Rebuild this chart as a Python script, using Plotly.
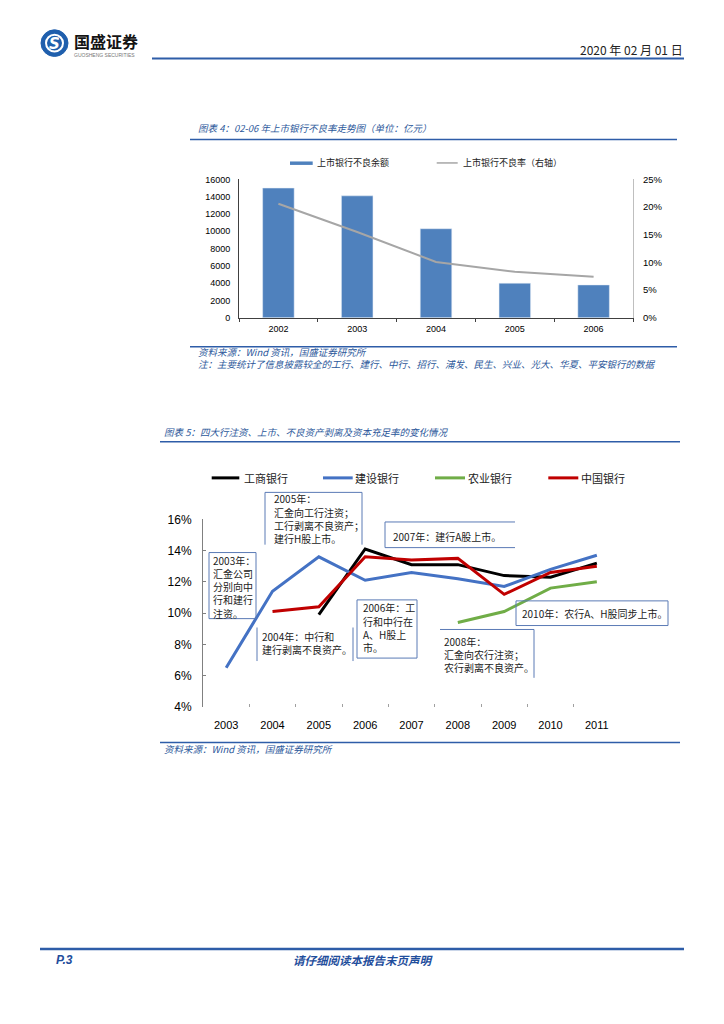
import plotly.graph_objects as go

W, H = 724, 1024
OFF = 8  # the page body adds an 8px margin; compensate so marks land where the reference has them
def X(p): return (p - OFF) / W
def Y(p): return 1 - (p - OFF) / H

CJK = "Noto Sans CJK SC"
LAT = "Liberation Sans"
BLUE_T = "#2B579A"
RULE = "#2E5DA8"

# ---------------- Chart 1 data ----------------
years1 = ["2002", "2003", "2004", "2005", "2006"]
npl_balance = [15000, 14100, 10300, 4000, 3800]          # 亿元
npl_ratio = [0.206, 0.155, 0.101, 0.083, 0.074]          # 右轴
name_bal = "上市银行不良余额"
name_ratio = "上市银行不良率（右轴）"

# ---------------- Chart 2 data ----------------
years2 = ["2003", "2004", "2005", "2006", "2007", "2008", "2009", "2010", "2011"]
icbc = [None, None, 9.9, 14.1, 13.1, 13.1, 12.4, 12.3, 13.2]
ccb = [6.5, 11.4, 13.6, 12.1, 12.6, 12.2, 11.7, 12.8, 13.7]
abc = [None, None, None, None, None, 9.4, 10.1, 11.6, 12.0]
boc = [None, 10.1, 10.4, 13.6, 13.4, 13.5, 11.2, 12.6, 13.0]
names2 = ["工商银行", "建设银行", "农业银行", "中国银行"]
colors2 = ["#000000", "#4472C4", "#70AD47", "#C00000"]

fig = go.Figure()

# Chart 1 traces
fig.add_trace(go.Bar(x=years1, y=npl_balance, name=name_bal, marker_color="#4F81BD",
                     width=0.4, xaxis="x", yaxis="y", showlegend=False))
fig.add_trace(go.Scatter(x=years1, y=npl_ratio, name=name_ratio, mode="lines",
                         line=dict(color="#A6A6A6", width=2), xaxis="x", yaxis="y2",
                         showlegend=False))

# Chart 2 traces
for vals, nm, col in zip([icbc, ccb, abc, boc], names2, colors2):
    fig.add_trace(go.Scatter(x=years2, y=vals, name=nm, mode="lines",
                             line=dict(color=col, width=3), xaxis="x2", yaxis="y3",
                             connectgaps=False, showlegend=False))

shapes = []
annos = []

def hline(x0, x1, y, color=RULE, width=1.5):
    shapes.append(dict(type="line", xref="paper", yref="paper", x0=X(x0), x1=X(x1),
                       y0=Y(y), y1=Y(y), line=dict(color=color, width=width)))

def seg(x0, y0, x1, y1, color, width=1):
    shapes.append(dict(type="line", xref="paper", yref="paper", x0=X(x0), x1=X(x1),
                       y0=Y(y0), y1=Y(y1), line=dict(color=color, width=width)))

def txt(s, x, y, size, color="black", xanchor="left", family=CJK, weight="normal", style="normal"):
    annos.append(dict(text=s, x=X(x), y=Y(y), xref="paper", yref="paper", xanchor=xanchor,
                      yanchor="middle", showarrow=False, borderpad=0, align="left",
                      font=dict(size=size, color=color, family=family, weight=weight, style=style)))

# ---------------- Header ----------------
shapes.append(dict(type="circle", xref="paper", yref="paper", x0=X(41), x1=X(68), y0=Y(50), y1=Y(23),
                   fillcolor="#1F5FAD", line=dict(color="#1F5FAD", width=1)))
shapes.append(dict(type="circle", xref="paper", yref="paper", x0=X(46), x1=X(63), y0=Y(45), y1=Y(28),
                   fillcolor="rgba(0,0,0,0)", line=dict(color="white", width=2)))
txt("S", 54.5, 37, 15, color="white", xanchor="center", family="DejaVu Sans", weight="bold", style="italic")
txt("国盛证券", 73, 34, 16, color="#141414", weight="bold")
txt("GUOSHENG SECURITIES", 73, 48.5, 5, color="#777777", family=LAT)
hline(152, 684, 52, width=2)
txt("2020 年 02 月 01 日", 684, 43, 12, color="#222222", xanchor="right")

# ---------------- Chart 1 texts ----------------
txt("图表 4：02-06 年上市银行不良率走势图（单位：亿元）", 197, 123, 9.5, color=BLUE_T, style="italic")
hline(190, 677, 134.3)
shapes.append(dict(type="rect", xref="paper", yref="paper", x0=X(290), x1=X(312.7), y0=Y(160), y1=Y(156.5),
                   fillcolor="#4F81BD", line=dict(width=0)))
txt(name_bal, 316, 158, 9, color="#222222")
seg(436.7, 158, 457.7, 158, "#A6A6A6", 1.5)
txt(name_ratio, 462, 158, 9, color="#222222")
hline(190, 677, 344.3)
txt("资料来源：Wind 资讯，国盛证券研究所<br>"
    "注：主要统计了信息披露较全的工行、建行、中行、招行、浦发、民生、兴业、光大、华夏、平安银行的数据",
    197, 355.3, 9.5, color=BLUE_T, style="italic")

# ---------------- Chart 2 texts ----------------
txt("图表 5：四大行注资、上市、不良资产剥离及资本充足率的变化情况", 163, 430.7, 9.5, color=BLUE_T, style="italic")
hline(160, 680, 440.7)
leg2 = [(211.7, 239.3, 242.7), (323, 352.7, 354.3), (435, 465, 466.7), (548.3, 578.3, 580)]
for (a, b, t), nm, col in zip(leg2, names2, colors2):
    seg(a, 477.3, b, 477.3, col, 3)
    txt(nm, t, 477.3, 11, color="#222222")
hline(160, 680, 745.7)
txt("资料来源：Wind 资讯，国盛证券研究所", 163, 752, 9.5, color=BLUE_T, style="italic")

# annotation boxes (x0, y0, x1, y1, edges)
BOXC = "#5A7AB5"
boxes = [
    (265, 492, 362, 545, "tlr"),
    (209, 553, 256, 620, "tlrb"),
    (257, 629, 353, 663, "lr"),
    (357, 601, 417, 660, "tlrb"),
    (385, 522, 515, 548, "tbl"),
    (440, 631, 534, 680, "tr"),
    (516, 602, 668, 627, "tlrb"),
]
for x0, y0, x1, y1, e in boxes:
    if "t" in e: seg(x0, y0, x1, y0, BOXC)
    if "b" in e: seg(x0, y1, x1, y1, BOXC)
    if "l" in e: seg(x0, y0, x0, y1, BOXC)
    if "r" in e: seg(x1, y0, x1, y1, BOXC)

notes = [
    (273, 498.5, ["2005年：", "汇金向工行注资；", "工行剥离不良资产；", "建行H股上市。"]),
    (211.7, 560.7, ["2003年：", "汇金公司", "分别向中", "行和建行", "注资。"]),
    (260.7, 637.7, ["2004年：中行和", "建行剥离不良资产。"]),
    (361.7, 609, ["2006年：工", "行和中行在", "A、H股上", "市。"]),
    (391.7, 536.7, ["2007年：建行A股上市。"]),
    (443.3, 642.7, ["2008年：", "汇金向农行注资；", "农行剥离不良资产。"]),
    (520.7, 615, ["2010年：农行A、H股同步上市。"]),
]
for x, y, lines in notes:
    for i, ln in enumerate(lines):
        txt(ln, x, y + i * 13.4, 10, color="#222222")

# ---------------- Footer ----------------
hline(40, 684, 955, width=2.5)
txt("P.3", 55, 966, 12, color="#1F4E9C", family=LAT, weight="bold", style="italic")
txt("请仔细阅读本报告末页声明", 363, 966, 11.5, color="#1F4E9C", xanchor="center", weight="bold", style="italic")

fig.update_layout(
    width=W, height=H, margin=dict(l=0, r=0, t=0, b=0),
    paper_bgcolor="white", plot_bgcolor="rgba(0,0,0,0)",
    showlegend=False, shapes=shapes, annotations=annos,
    xaxis=dict(domain=[X(239), X(633)], anchor="y", type="category", categoryorder="array",
               categoryarray=years1, range=[-0.5, 4.5], showline=True, linecolor="#404040",
               linewidth=1, ticks="outside", tickson="boundaries", ticklen=3, tickcolor="#404040",
               showgrid=False, zeroline=False, tickfont=dict(family=LAT, size=9, color="black"),
               ticklabelstandoff=2),
    yaxis=dict(domain=[Y(315), Y(174.7)], anchor="x", range=[0, 16000], dtick=2000, tickformat="d",
               showline=True, linecolor="#404040", linewidth=1, showgrid=False, zeroline=False,
               ticks="", tickfont=dict(family=LAT, size=9, color="black"), ticklabelstandoff=6),
    yaxis2=dict(overlaying="y", side="right", anchor="x", range=[0, 0.25], dtick=0.05,
                tickformat=".0%", showline=True, linecolor="#BFBFBF", linewidth=1, showgrid=False,
                zeroline=False, ticks="", tickfont=dict(family=LAT, size=9.5, color="black"),
                ticklabelstandoff=7),
    xaxis2=dict(domain=[X(203), X(620)], anchor="y3", type="category", categoryorder="array",
                categoryarray=years2, range=[-0.5, 8.5], showline=False, ticks="inside",
                tickson="boundaries", ticklen=3, tickcolor="#A0A0A0", showgrid=False, zeroline=False,
                tickfont=dict(family=LAT, size=11, color="black"), ticklabelstandoff=10),
    yaxis3=dict(domain=[Y(709.5), Y(519.3)], anchor="x2", range=[4, 16], dtick=2, ticksuffix="%",
                showline=True, linecolor="#808080", linewidth=1, ticks="inside", ticklen=3,
                tickcolor="#808080", showgrid=False, zeroline=False,
                tickfont=dict(family=LAT, size=12, color="black"), ticklabelstandoff=8),
)

fig.write_html("out.html")
